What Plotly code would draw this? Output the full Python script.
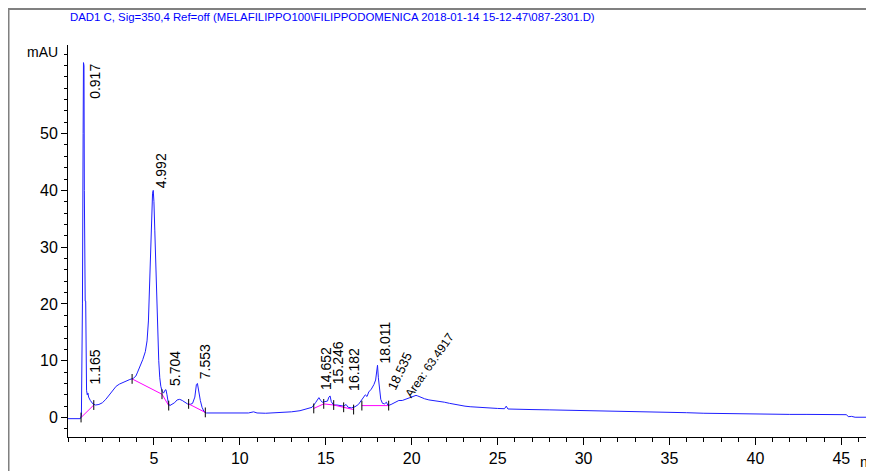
import plotly.graph_objects as go

# ---------------- data ----------------
time_min = [0.00, 0.30, 0.55, 0.72, 0.78, 0.84, 0.88, 0.90, 0.93, 0.95, 0.97, 1.00, 1.03, 1.05, 1.08,
            1.12, 1.16, 1.20, 1.30, 1.45, 1.60, 1.80, 2.00, 2.20, 2.40, 2.60, 2.80, 3.00, 3.20, 3.40,
            3.60, 3.80, 3.95, 4.05, 4.20, 4.35, 4.50, 4.60, 4.68, 4.74, 4.80, 4.86, 4.92, 4.96, 5.00,
            5.05, 5.10, 5.16, 5.22, 5.28, 5.34, 5.40, 5.48, 5.56, 5.64, 5.70, 5.76, 5.84, 5.92, 6.05,
            6.20, 6.35, 6.50, 6.65, 6.80, 6.95, 7.10, 7.25, 7.38, 7.47, 7.53, 7.60, 7.70, 7.80, 7.92,
            8.05, 8.50, 9.00, 9.50, 10.00, 10.50, 10.80, 11.00, 11.50, 12.00, 12.50, 13.00, 13.50, 13.90,
            14.20, 14.40, 14.52, 14.60, 14.70, 14.80, 14.95, 15.10, 15.18, 15.25, 15.32, 15.45, 15.65,
            15.85, 16.05, 16.18, 16.30, 16.50, 16.70, 16.90, 17.05, 17.20, 17.30, 17.40, 17.50, 17.65,
            17.80, 17.90, 17.96, 18.01, 18.06, 18.12, 18.20, 18.30, 18.42, 18.53, 18.62, 18.80, 18.95,
            19.10, 19.25, 19.45, 19.65, 19.85, 20.05, 20.25, 20.35, 20.55, 20.75, 21.00, 21.30, 21.60,
            21.90, 22.20, 22.50, 22.80, 23.10, 23.40, 23.80, 24.20, 24.60, 25.00, 25.40, 25.50, 25.60,
            26.00, 27.00, 28.00, 29.00, 30.00, 31.00, 32.00, 33.00, 34.00, 35.00, 36.00, 37.00, 38.00,
            39.00, 40.00, 41.00, 42.00, 43.00, 44.00, 45.00, 45.30, 45.40, 45.60, 45.80, 46.90]
signal_mau = [-0.2, -0.25, -0.2, -0.2, 0.3, 20.0, 50.0, 62.5, 62.0, 40.0, 21.0, 20.5, 20.5, 8.0, 4.8,
              4.0, 4.3, 3.6, 3.0, 2.4, 2.2, 2.3, 2.6, 3.2, 4.0, 4.9, 5.5, 5.9, 6.2, 6.4,
              6.7, 6.9, 7.3, 8.0, 9.0, 10.2, 11.6, 13.5, 17.0, 23.0, 29.5, 35.0, 39.5, 40.0, 38.0,
              33.0, 27.0, 20.0, 14.0, 10.0, 7.0, 5.5, 4.6, 4.3, 4.8, 4.9, 4.0, 2.5, 2.1, 2.3,
              2.6, 3.1, 3.2, 3.0, 2.7, 2.4, 2.3, 2.5, 3.6, 5.8, 6.0, 4.6, 3.0, 1.8, 1.0,
              0.8, 0.8, 0.75, 0.8, 0.75, 0.8, 1.0, 0.8, 0.75, 0.8, 0.85, 1.0, 1.2, 1.5,
              1.8, 2.6, 3.3, 3.5, 3.0, 2.7, 2.8, 2.9, 3.6, 3.8, 2.8, 2.2, 2.2,
              2.1, 2.0, 2.3, 1.8, 1.7, 1.9, 2.3, 2.9, 3.5, 4.0, 3.7, 4.5, 5.0,
              5.8, 6.6, 8.3, 9.2, 7.0, 4.8, 3.2, 2.5, 2.4, 2.7, 2.1, 2.3, 2.5,
              2.8, 3.0, 3.0, 3.2, 3.4, 3.6, 3.9, 3.8, 3.5, 3.3, 3.1, 3.0, 2.8,
              2.7, 2.5, 2.3, 2.2, 2.0, 1.9, 1.8, 1.7, 1.6, 1.6, 1.55, 2.0, 1.5,
              1.5, 1.4, 1.35, 1.3, 1.25, 1.2, 1.15, 1.1, 1.0, 0.9, 0.85, 0.75, 0.7,
              0.6, 0.6, 0.55, 0.55, 0.55, 0.55, 0.55, 0.5, 0.15, 0.2, 0.05, 0.05]

# integration baselines (None separates segments)
base_t = [0.76, 1.50, None, 3.73, 5.47, 5.86, None, 7.02, 7.99, None,
          14.30, 14.88, 15.46, 16.04, 16.62, None, 17.10, 18.66]
base_y = [0.0, 2.2, None, 6.8, 4.1, 2.1, None, 2.4, 0.9, None,
          1.6, 2.4, 2.2, 1.8, 1.4, None, 2.1, 2.1]

# peak labels: text, time, signal, angle, font size
peak_text = ["0.917", "1.165", "4.992", "5.704", "7.553", "14.652", "15.246", "16.182",
             "18.011", "18.535", "Area: 63.4917"]
peak_time = [0.95, 1.0, 4.80, 5.67, 7.36, 14.46, 15.10, 16.02, 17.88, 18.3, 19.3]
peak_sig = [62.6, 5.4, 40.0, 5.2, 6.4, 4.5, 5.5, 4.3, 9.2, 4.0, 2.5]
peak_angle = [-90, -90, -90, -90, -90, -90, -90, -90, -90, -65, -55]
peak_size = [14, 14, 14, 14, 14, 14, 14, 14, 14, 13, 12]

x_ticks = [5, 10, 15, 20, 25, 30, 35, 40, 45]
y_ticks = [0, 10, 20, 30, 40, 50]
title_text = "DAD1 C, Sig=350,4 Ref=off (MELAFILIPPO100\\FILIPPODOMENICA 2018-01-14 15-12-47\\087-2301.D)"

FONT = "Liberation Sans Narrow, Arial Narrow, Liberation Sans, Arial, sans-serif"

fig = go.Figure()
fig.add_trace(go.Scatter(x=time_min, y=signal_mau, mode="lines",
                         line=dict(color="rgb(30,30,255)", width=1), hoverinfo="skip"))
fig.add_trace(go.Scatter(x=base_t, y=base_y, mode="lines+markers",
                         line=dict(color="rgb(255,0,255)", width=1),
                         marker=dict(symbol="line-ns", size=7, line=dict(color="black", width=1)),
                         connectgaps=False, hoverinfo="skip"))

for txt, t, s, a, fs in zip(peak_text, peak_time, peak_sig, peak_angle, peak_size):
    top = (txt == "0.917")
    fig.add_annotation(x=t, y=s, text=txt, showarrow=False, textangle=a,
                       xanchor="left", yanchor="top" if top else "bottom",
                       font=dict(family=FONT, size=fs, color="black"))

fig.add_annotation(xref="paper", yref="paper", x=0.0, y=1.071, text=title_text, showarrow=False,
                   xanchor="left", yanchor="middle",
                   font=dict(family=FONT, size=11.4, color="rgb(0,0,255)"))
fig.add_annotation(xref="paper", yref="y", x=-0.01, y=64.3, text="mAU", showarrow=False,
                   xanchor="right", yanchor="middle",
                   font=dict(family=FONT, size=14, color="black"))
fig.add_annotation(xref="paper", yref="paper", x=0.980, y=-0.062, text="min", showarrow=False,
                   xanchor="left", yanchor="middle",
                   font=dict(family=FONT, size=15, color="black"))

fig.add_shape(type="rect", xref="paper", yref="paper", x0=-0.0738, y0=-0.2, x1=1.05, y1=1.092,
              line=dict(color="rgb(128,128,128)", width=2), fillcolor="rgba(0,0,0,0)", layer="below")

fig.update_layout(
    width=866, height=463,
    margin=dict(l=60, r=0, t=37, b=34),
    paper_bgcolor="white", plot_bgcolor="white",
    showlegend=False,
    xaxis=dict(range=[0, 46.9], showgrid=False, zeroline=False, showline=True, linecolor="black",
               linewidth=1, ticks="outside", ticklen=7, tickcolor="black", tickvals=x_ticks,
               ticktext=[str(v) for v in x_ticks],
               minor=dict(dtick=1, ticks="outside", ticklen=4, tickcolor="black"),
               tickfont=dict(family=FONT, size=16, color="black")),
    yaxis=dict(range=[-3.43, 65.6], showgrid=False, zeroline=False, showline=True, linecolor="black",
               linewidth=1, ticks="outside", ticklen=6, tickcolor="black", tickvals=y_ticks,
               ticktext=[str(v) for v in y_ticks],
               minor=dict(dtick=2, ticks="outside", ticklen=3, tickcolor="black"),
               tickfont=dict(family=FONT, size=16, color="black")),
)

fig.write_html("out.html")
